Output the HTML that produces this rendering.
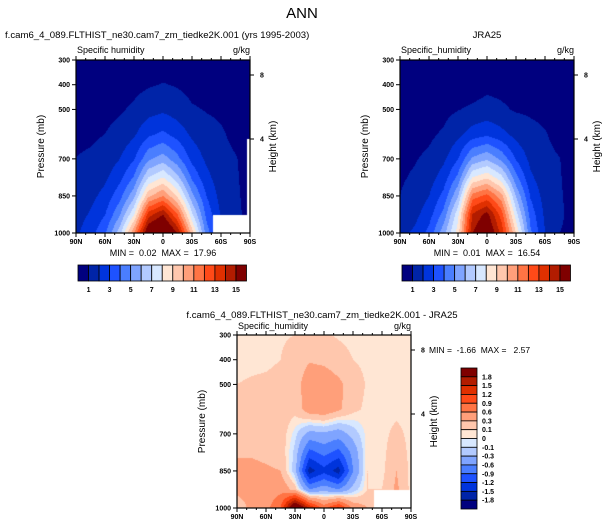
<!DOCTYPE html>
<html><head><meta charset="utf-8">
<style>
body{margin:0;background:#fff;}
#wrap{position:relative;width:604px;height:529px;overflow:hidden;font-family:"Liberation Sans",sans-serif;}
canvas{position:absolute;}
svg{position:absolute;left:0;top:0;}
text{white-space:pre;}
</style></head>
<body>
<div id="wrap">
<canvas id="c1" width="174" height="173" style="left:76px;top:60px"></canvas>
<canvas id="c2" width="174" height="173" style="left:400px;top:60px"></canvas>
<canvas id="c3" width="174" height="173" style="left:237px;top:335px"></canvas>
<svg id="s" width="604" height="529"></svg>
</div>
<script>
const lats=[90,75,60,45,30,15,0,-15,-30,-45,-60,-75,-90];
const levels=[300,400,500,600,700,775,850,925,1000];
const modelQ=[
[0.47,0.36,0.37,0.39,0.46,0.5,0.5,0.45,0.4,0.35,0.3,0.28,0.25],
[0.56,0.48,0.51,0.59,0.73,0.9,1.05,0.92,0.7,0.6,0.55,0.45,0.4],
[0.69,0.63,0.72,0.88,1.16,1.6,1.8,1.5,1.1,0.95,0.85,0.6,0.5],
[0.83,0.85,1.0,1.32,1.85,2.8,3.2,2.6,1.8,1.3,1.1,0.8,0.6],
[1.01,1.13,1.4,1.98,2.9,4.8,5.5,4.3,2.7,1.8,1.25,1.05,0.7],
[1.17,1.39,1.8,2.67,4.1,7.0,8.0,6.3,3.8,2.3,1.4,1.08,0.75],
[1.35,1.71,2.31,3.59,5.7,9.8,11,8.8,5.3,3.0,1.6,1.1,0.8],
[1.56,2.11,2.96,4.83,7.9,13.5,15,12,7.2,3.7,1.9,1.12,0.85],
[1.8,2.6,3.8,6.5,11,16.5,17.5,15,9.5,4.5,2.2,1.1,0.9]];
const jraQ=[
[0.42,0.31,0.32,0.31,0.36,0.35,0.38,0.37,0.35,0.3,0.25,0.23,0.2],
[0.51,0.42,0.44,0.49,0.53,0.55,0.75,0.72,0.6,0.54,0.5,0.4,0.35],
[0.59,0.51,0.59,0.73,0.96,1.15,1.35,1.15,0.9,0.87,0.8,0.55,0.45],
[0.68,0.7,0.82,1.12,1.73,2.45,2.8,2.3,1.65,1.24,1.05,0.75,0.55],
[0.81,0.93,1.18,1.78,2.95,5.2,5.85,4.75,2.9,1.72,1.2,1.02,0.65],
[0.89,1.11,1.55,2.45,4.25,8.0,8.8,7.3,4.3,2.2,1.35,1.05,0.7],
[1.0,1.36,1.98,3.29,5.9,11.45,12.3,10.4,5.9,2.9,1.55,1.08,0.75],
[1.16,1.66,2.56,4.33,7.7,14.1,15.4,12.5,7.4,3.6,1.8,1.1,0.8],
[1.7,2.2,3.3,5.6,8.5,15.0,16.5,13.7,9.0,4.2,2.0,1.0,0.85]];
const diffQ=[
[0.05,0.05,0.05,0.08,0.1,0.15,0.12,0.08,0.05,0.05,0.05,0.05,0.05],
[0.05,0.06,0.07,0.1,0.18,0.28,0.25,0.18,0.1,0.06,0.05,0.05,0.05],
[0.1,0.12,0.13,0.15,0.2,0.45,0.45,0.35,0.2,0.08,0.05,0.05,0.05],
[0.15,0.15,0.18,0.2,0.15,0.45,0.5,0.35,0.15,0.06,0.05,0.05,0.05],
[0.2,0.2,0.22,0.2,-0.05,-0.4,-0.35,-0.45,-0.2,0.05,0.05,0.15,0.05],
[0.28,0.28,0.25,0.22,-0.15,-1.0,-0.8,-1.0,-0.5,0.08,0.05,0.22,0.05],
[0.35,0.35,0.33,0.3,-0.2,-1.65,-1.3,-1.65,-0.6,0.1,0.05,0.3,0.05],
[0.4,0.45,0.4,0.5,0.2,-0.6,-0.4,-0.6,-0.2,0.1,0.1,0.35,0.05],
[0.08,0.4,0.5,0.9,2.5,1.5,0.8,1.3,0.5,0.3,0.2,0.2,0.05]];
// missing regions: [latFrom, latTo, pressureTop]
const modelMissing=[[-52,-90,927],[-87,-90,620]];
const diffMissing=[[-52,-90,927]];
const absLevels=[1,2,3,4,5,6,7,8,9,10,11,12,13,14,15];
const absTickLabels=["1","3","5","7","9","11","13","15"];
const diffLevels=[-1.8,-1.5,-1.2,-0.9,-0.6,-0.3,-0.1,0,0.1,0.3,0.6,0.9,1.2,1.5,1.8];
const diffTickLabels=["-1.8","-1.5","-1.2","-0.9","-0.6","-0.3","-0.1","0","0.1","0.3","0.6","0.9","1.2","1.5","1.8"];
const colors=["#00007f","#0024a8","#0034dc","#1e52ff","#4a7eff","#7fa4ff","#b2caff","#d8e8ff","#ffe6d4","#ffc7ad","#ff9f7a","#ff7444","#ff4a18","#e03000","#b21c00","#7f0000"];

function interp(grid,lat,p){
  let fi=(90-lat)/15; let i=Math.min(Math.floor(fi),lats.length-2); let ti=fi-i;
  let j=0; while(j<levels.length-2 && p>levels[j+1]) j++;
  let tj=(p-levels[j])/(levels[j+1]-levels[j]);
  const a=grid[j][i],b=grid[j][i+1],c=grid[j+1][i],d=grid[j+1][i+1];
  return (a*(1-ti)+b*ti)*(1-tj)+(c*(1-ti)+d*ti)*tj;
}
function colorFor(v,lv){let k=0;while(k<lv.length&&v>=lv[k])k++;return colors[k];}
function hex(c){return [parseInt(c.substr(1,2),16),parseInt(c.substr(3,2),16),parseInt(c.substr(5,2),16)];}
function drawField(id,grid,lv,missing){
  const cv=document.getElementById(id),ctx=cv.getContext('2d');
  const W=cv.width,H=cv.height,img=ctx.createImageData(W,H);
  for(let y=0;y<H;y++)for(let x=0;x<W;x++){
    const lat=90-(x+0.5)/W*180,p=300+(y+0.5)/H*700;
    let rgb=[255,255,255],miss=false;
    for(const m of missing){if(lat<=m[0]&&lat>=m[1]&&p>=m[2])miss=true;}
    if(!miss)rgb=hex(colorFor(interp(grid,lat,p),lv));
    const o=(y*W+x)*4;img.data[o]=rgb[0];img.data[o+1]=rgb[1];img.data[o+2]=rgb[2];img.data[o+3]=255;
  }
  ctx.putImageData(img,0,0);
}
drawField('c1',modelQ,absLevels,modelMissing);
drawField('c2',jraQ,absLevels,[]);
drawField('c3',diffQ,diffLevels,diffMissing);

const S=document.getElementById('s');const NS='http://www.w3.org/2000/svg';
function el(tag,attrs,txt){const e=document.createElementNS(NS,tag);for(const k in attrs)e.setAttribute(k,attrs[k]);if(txt!==undefined)e.textContent=txt;S.appendChild(e);return e;}
function txt(x,y,s,size,anchor,name,extra){const e=el('text',Object.assign({x:x,y:y,'font-size':size,'text-anchor':anchor||'start','font-family':'Liberation Sans, sans-serif',fill:'#000'},extra||{}),s);

return e;}

const xLabels=["90N","60N","30N","0","30S","60S","90S"];
const pLabels=[300,400,500,700,850,1000];
function panel(x0,y0,w,h,pre){
  const xOf=lat=>x0+(90-lat)/180*w, yOf=p=>y0+(p-300)/700*h;
  const r=el('rect',{x:x0,y:y0,width:w,height:h,fill:'none',stroke:'#000','stroke-width':1.2});
  
  
  for(let lat=90;lat>=-90;lat-=10){
    const major=lat%30===0,L=major?4:2,x=xOf(lat);
    el('line',{x1:x,y1:y0+h,x2:x,y2:y0+h+L,stroke:'#000','stroke-width':1});
    el('line',{x1:x,y1:y0,x2:x,y2:y0-L,stroke:'#000','stroke-width':1});
  }
  xLabels.forEach((s,i)=>{txt(xOf(90-i*30),y0+h+11,s,7,'middle',pre+'-x-tick-label',{'font-weight':'bold'});});
  pLabels.forEach(p=>{const y=yOf(p);el('line',{x1:x0-4,y1:y,x2:x0,y2:y,stroke:'#000'});
    txt(x0-6,y+2.5,String(p),7,'end',pre+'-y-tick-label',{'font-weight':'bold'});});
  [[8,yOf(300)+15],[4,yOf(300)+79]].forEach(k=>{el('line',{x1:x0+w,y1:k[1],x2:x0+w+4,y2:k[1],stroke:'#000'});
    txt(x0+w+10,k[1]+2.5,String(k[0]),7,'start',pre+'-height-tick-label',{'font-weight':'bold'});});
  txt(x0-32,y0+h/2,'Pressure (mb)',10,'middle',pre+'-y-axis-title',{transform:`rotate(-90 ${x0-32} ${y0+h/2})`});
  txt(x0+w+26,y0+h/2,'Height (km)',10,'middle',pre+'-height-axis-title',{transform:`rotate(-90 ${x0+w+26} ${y0+h/2})`});
}
panel(76,60,174,173,'model');
panel(400,60,174,173,'jra');
panel(237,335,174,173,'diff');

txt(302,18,'ANN',15,'middle','figure-title');
txt(5,38,'f.cam6_4_089.FLTHIST_ne30.cam7_zm_tiedke2K.001 (yrs 1995-2003)',9.6,'start','model-title');
txt(487,38,'JRA25',9.6,'middle','jra-title');
txt(77,53,'Specific humidity',9,'start','model-variable-label');
txt(250,53,'g/kg',9,'end','model-units-label');
txt(401,53,'Specific_humidity',9,'start','jra-variable-label');
txt(574,53,'g/kg',9,'end','jra-units-label');
txt(163,256,'MIN =  0.02  MAX =  17.96',9,'middle','model-min-max');
txt(487,256,'MIN =  0.01  MAX =  16.54',9,'middle','jra-min-max');
txt(322,318,'f.cam6_4_089.FLTHIST_ne30.cam7_zm_tiedke2K.001 - JRA25',9.6,'middle','diff-title');
txt(238,329,'Specific_humidity',9,'start','diff-variable-label');
txt(411,329,'g/kg',9,'end','diff-units-label');
txt(429,353,'MIN =  -1.66  MAX =   2.57',8.5,'start','diff-min-max');

function hbar(x0,y0,w,h,pre){
  const bw=w/colors.length;
  colors.forEach((c,i)=>{const r=el('rect',{x:x0+i*bw,y:y0,width:bw,height:h,fill:c,stroke:'#000','stroke-width':0.8});
    
    });
  absTickLabels.forEach((s,i)=>{txt(x0+bw*(1+2*i),y0+h+11,s,7,'middle',pre+'-colorbar-label',{'font-weight':'bold'});});
}
hbar(78,265,168.5,16,'model');
hbar(402,265,168.5,16,'jra');
const bh=141/colors.length;
colors.slice().reverse().forEach((c,i)=>{const r=el('rect',{x:461,y:368+i*bh,width:16,height:bh,fill:c,stroke:'#000','stroke-width':0.8});
  
  });
diffTickLabels.slice().reverse().forEach((s,i)=>{txt(482,368+bh*(i+1)+2.5,s,7,'start','diff-colorbar-label',{'font-weight':'bold'});});
</script>
</body></html>
